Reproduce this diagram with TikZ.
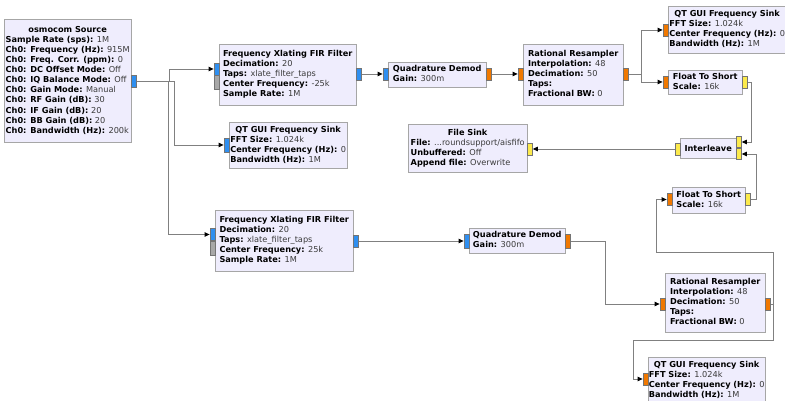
\documentclass[tikz,border=0pt]{standalone}
\usepackage{fontspec}
\setmainfont{DejaVu Sans}
\usetikzlibrary{arrows.meta}

\definecolor{blockfill}{HTML}{EFEDFD}
\definecolor{blockline}{HTML}{A6A6A6}
\definecolor{wiregray}{HTML}{808080}
\definecolor{valtext}{HTML}{3A3A3A}
\definecolor{cplxport}{HTML}{2F8FF0}
\definecolor{floatport}{HTML}{F07800}
\definecolor{shortport}{HTML}{FCEA4C}
\definecolor{msgport}{HTML}{A8A8A8}

\newcommand{\blkname}[1]{\multicolumn{1}{@{}c@{}}{\textbf{#1}}}
\newcommand{\prm}[2]{\textbf{#1:} \textcolor{valtext}{#2}}

\begin{document}
\begin{tikzpicture}[
        x=1pt, y=1pt,
        block/.style={draw=blockline, fill=blockfill, rectangle, anchor=north west, inner sep=0pt, font=\fontsize{8.2}{10.1}\selectfont},
        inport/.style={draw=blockline!70!black, rectangle, minimum width=5pt, minimum height=12pt, inner sep=0pt, anchor=east},
        outport/.style={inport, anchor=west},
        wire/.style={draw=wiregray, line width=0.8pt, -{Triangle[length=5pt, width=4.5pt, color=black]}}
    ]

    \useasboundingbox (0,0) rectangle (785,401);
    \fill[white] (0,0) rectangle (785,401);
    \clip (0,0) rectangle (785,401);

    % blocks
    \node[block, minimum width=127pt, minimum height=123pt] (Src) at (4,382) {\begin{tabular}{@{}l@{}}
        \blkname{osmocom Source}\\
        \prm{Sample Rate (sps)}{1M}\\
        \prm{Ch0: Frequency (Hz)}{915M}\\
        \prm{Ch0: Freq. Corr. (ppm)}{0}\\
        \prm{Ch0: DC Offset Mode}{Off}\\
        \prm{Ch0: IQ Balance Mode}{Off}\\
        \prm{Ch0: Gain Mode}{Manual}\\
        \prm{Ch0: RF Gain (dB)}{30}\\
        \prm{Ch0: IF Gain (dB)}{20}\\
        \prm{Ch0: BB Gain (dB)}{20}\\
        \prm{Ch0: Bandwidth (Hz)}{200k}
    \end{tabular}};
    \node[block, minimum width=137pt, minimum height=61pt] (XlateA) at (219,357) {\begin{tabular}{@{}l@{}}
        \blkname{Frequency Xlating FIR Filter}\\
        \prm{Decimation}{20}\\
        \prm{Taps}{xlate\_filter\_taps}\\
        \prm{Center Frequency}{-25k}\\
        \prm{Sample Rate}{1M}
    \end{tabular}};
    \node[block, minimum width=98pt, minimum height=25pt] (DemodA) at (388,339) {\begin{tabular}{@{}l@{}}
        \blkname{Quadrature Demod}\\
        \prm{Gain}{300m}
    \end{tabular}};
    \node[block, minimum width=100pt, minimum height=61pt] (ResampA) at (523,357) {\begin{tabular}{@{}l@{}}
        \blkname{Rational Resampler}\\
        \prm{Interpolation}{48}\\
        \prm{Decimation}{50}\\
        \textbf{Taps:}\\
        \prm{Fractional BW}{0}
    \end{tabular}};
    \node[block, minimum width=118pt, minimum height=47pt] (FftA) at (668,395) {\begin{tabular}{@{}l@{}}
        \blkname{QT GUI Frequency Sink}\\
        \prm{FFT Size}{1.024k}\\
        \prm{Center Frequency (Hz)}{0}\\
        \prm{Bandwidth (Hz)}{1M}
    \end{tabular}};
    \node[block, minimum width=74pt, minimum height=24pt] (ToShortA) at (668,331) {\begin{tabular}{@{}l@{}}
        \blkname{Float To Short}\\
        \prm{Scale}{16k}
    \end{tabular}};
    \node[block, minimum width=56pt, minimum height=20pt] (Inter) at (680,263) {\textbf{Interleave}};
    \node[block, minimum width=73pt, minimum height=26pt] (ToShortB) at (672,214) {\begin{tabular}{@{}l@{}}
        \blkname{Float To Short}\\
        \prm{Scale}{16k}
    \end{tabular}};
    \node[block, minimum width=119pt, minimum height=48pt] (Sink) at (408,277) {\begin{tabular}{@{}l@{}}
        \blkname{File Sink}\\
        \prm{File}{...roundsupport/aisfifo}\\
        \prm{Unbuffered}{Off}\\
        \prm{Append file}{Overwrite}
    \end{tabular}};
    \node[block, minimum width=118pt, minimum height=46pt] (FftMid) at (229,279) {\begin{tabular}{@{}l@{}}
        \blkname{QT GUI Frequency Sink}\\
        \prm{FFT Size}{1.024k}\\
        \prm{Center Frequency (Hz)}{0}\\
        \prm{Bandwidth (Hz)}{1M}
    \end{tabular}};
    \node[block, minimum width=138pt, minimum height=61pt] (XlateB) at (215,191) {\begin{tabular}{@{}l@{}}
        \blkname{Frequency Xlating FIR Filter}\\
        \prm{Decimation}{20}\\
        \prm{Taps}{xlate\_filter\_taps}\\
        \prm{Center Frequency}{25k}\\
        \prm{Sample Rate}{1M}
    \end{tabular}};
    \node[block, minimum width=96pt, minimum height=25pt] (DemodB) at (469,173) {\begin{tabular}{@{}l@{}}
        \blkname{Quadrature Demod}\\
        \prm{Gain}{300m}
    \end{tabular}};
    \node[block, minimum width=100pt, minimum height=59pt] (ResampB) at (665,128) {\begin{tabular}{@{}l@{}}
        \blkname{Rational Resampler}\\
        \prm{Interpolation}{48}\\
        \prm{Decimation}{50}\\
        \textbf{Taps:}\\
        \prm{Fractional BW}{0}
    \end{tabular}};
    \node[block, minimum width=117pt, minimum height=47pt] (FftB) at (648,44) {\begin{tabular}{@{}l@{}}
        \blkname{QT GUI Frequency Sink}\\
        \prm{FFT Size}{1.024k}\\
        \prm{Center Frequency (Hz)}{0}\\
        \prm{Bandwidth (Hz)}{1M}
    \end{tabular}};

    % ports
    \node[outport, fill=cplxport] (SrcOut) at ([yshift=-62pt]Src.north east) {};
    \node[inport, fill=cplxport] (XlateAIn) at ([yshift=-25pt]XlateA.north west) {};
    \node[inport, fill=msgport, minimum height=14pt] (XlateATaps) at ([yshift=-38pt]XlateA.north west) {};
    \node[outport, fill=cplxport] (XlateAOut) at ([yshift=-30pt]XlateA.north east) {};
    \node[inport, fill=cplxport] (DemodAIn) at ([yshift=-12pt]DemodA.north west) {};
    \node[outport, fill=floatport] (DemodAOut) at ([yshift=-12pt]DemodA.north east) {};
    \node[inport, fill=floatport] (ResampAIn) at ([yshift=-30pt]ResampA.north west) {};
    \node[outport, fill=floatport] (ResampAOut) at ([yshift=-30pt]ResampA.north east) {};
    \node[inport, fill=floatport] (FftAIn) at ([yshift=-24pt]FftA.north west) {};
    \node[inport, fill=floatport] (ToShortAIn) at ([yshift=-12pt]ToShortA.north west) {};
    \node[outport, fill=shortport] (ToShortAOut) at ([yshift=-12pt]ToShortA.north east) {};
    \node[outport, fill=shortport, minimum height=11pt] (InterInA) at ([yshift=-4pt]Inter.north east) {};
    \node[outport, fill=shortport, minimum height=11pt] (InterInB) at ([yshift=-16pt]Inter.north east) {};
    \node[inport, fill=shortport] (InterOut) at ([yshift=-11pt]Inter.north west) {};
    \node[inport, fill=floatport] (ToShortBIn) at ([yshift=-12.5pt]ToShortB.north west) {};
    \node[outport, fill=shortport] (ToShortBOut) at ([yshift=-12.5pt]ToShortB.north east) {};
    \node[outport, fill=shortport] (SinkIn) at ([yshift=-25pt]Sink.north east) {};
    \node[inport, fill=cplxport, minimum height=14pt] (FftMidIn) at ([yshift=-23pt]FftMid.north west) {};
    \node[inport, fill=cplxport] (XlateBIn) at ([yshift=-24.5pt]XlateB.north west) {};
    \node[inport, fill=msgport, minimum height=14pt] (XlateBTaps) at ([yshift=-38pt]XlateB.north west) {};
    \node[outport, fill=cplxport] (XlateBOut) at ([yshift=-31pt]XlateB.north east) {};
    \node[inport, fill=cplxport, minimum height=14pt] (DemodBIn) at ([yshift=-13pt]DemodB.north west) {};
    \node[outport, fill=floatport, minimum height=14pt] (DemodBOut) at ([yshift=-13pt]DemodB.north east) {};
    \node[inport, fill=floatport] (ResampBIn) at ([yshift=-31pt]ResampB.north west) {};
    \node[outport, fill=floatport] (ResampBOut) at ([yshift=-31pt]ResampB.north east) {};
    \node[inport, fill=floatport] (FftBIn) at ([yshift=-22pt]FftB.north west) {};

    % connections
    \draw[wire] (SrcOut.east) -- ++(33,0) |- (XlateAIn.west);
    \draw[wire] (SrcOut.east) -- ++(38,0) |- (FftMidIn.west);
    \draw[wire] (SrcOut.east) -- ++(32,0) |- (XlateBIn.west);
    \draw[wire] (XlateAOut.east) -- (DemodAIn.west);
    \draw[wire] (DemodAOut.east) -- (ResampAIn.west);
    \draw[wire] (ResampAOut.east) -- ++(13,0) |- (FftAIn.west);
    \draw[wire] (ResampAOut.east) -- ++(13,0) |- (ToShortAIn.west);
    \draw[wire] (ToShortAOut.east) -- ++(4,0) |- (InterInA.east);
    \draw[wire] (ToShortBOut.east) -- ++(6,0) |- (InterInB.east);
    \draw[wire] (InterOut.west) -- (SinkIn.east);
    \draw[wire] (XlateBOut.east) -- (DemodBIn.west);
    \draw[wire] (DemodBOut.east) -- ++(35,0) |- (ResampBIn.west);
    \draw[wire] (ResampBOut.east) -- ++(3,0) -- ++(0,52) -- ++(-117,0) |- (ToShortBIn.west);
    \draw[wire] (ResampBOut.east) -- ++(3,0) -- ++(0,-36) -- ++(-140,0) |- (FftBIn.west);

\end{tikzpicture}
\end{document}
